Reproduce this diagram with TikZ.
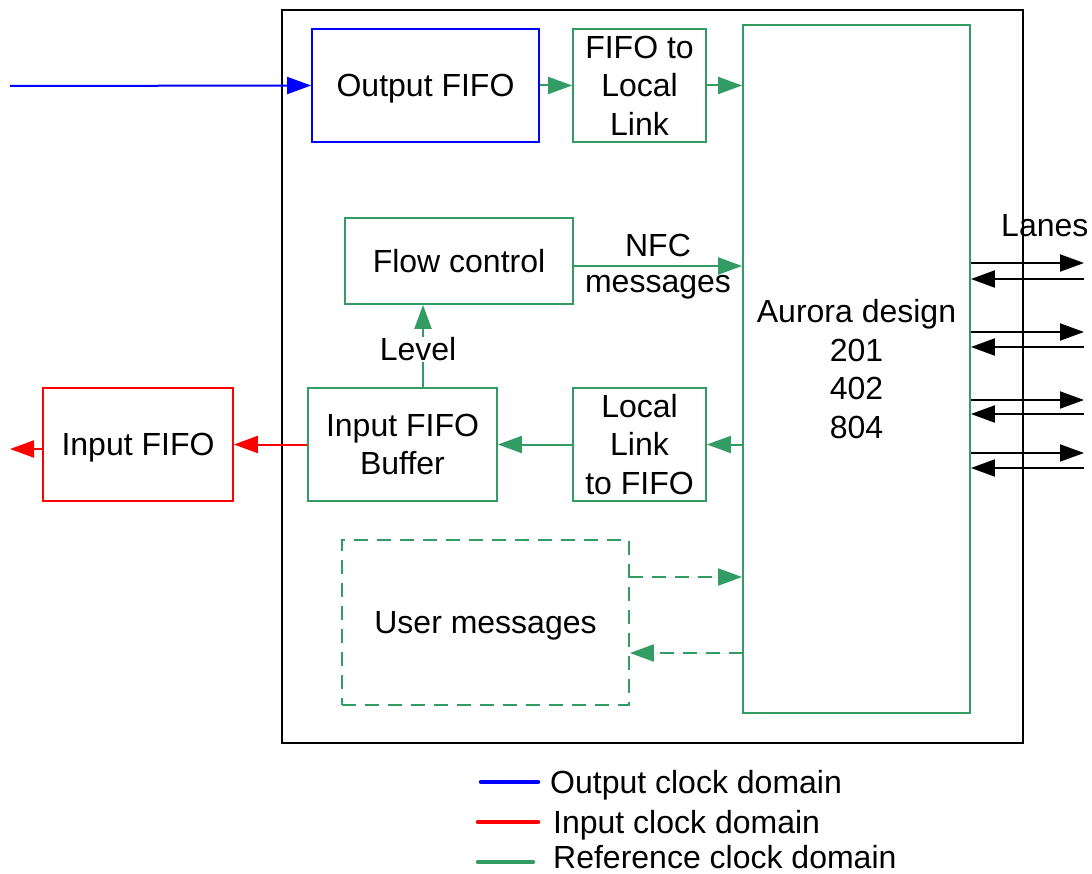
\documentclass[tikz,border=0pt]{standalone}
\usepackage{fontspec}
\setmainfont{Liberation Sans}
\usetikzlibrary{arrows.meta}
\definecolor{refgreen}{RGB}{51,155,100}
\definecolor{outblue}{RGB}{0,0,255}
\definecolor{inred}{RGB}{255,0,0}
\tikzset{
  box/.style={draw, line width=1.8pt, inner sep=0pt, align=center, font=\fontsize{32}{38.5}\selectfont},
  gbox/.style={box, draw=refgreen},
  txt/.style={inner sep=0pt, align=center, font=\fontsize{32}{38.5}\selectfont},
  tip/.style={-{Triangle[length=24pt,width=17pt]}},
  garr/.style={tip, draw=refgreen, fill=refgreen, line width=2pt},
  karr/.style={tip, draw=black, fill=black, line width=2pt},
  legline/.style={line width=4.5pt, line cap=round},
}
\begin{document}
\begin{tikzpicture}[x=1pt,y=-1pt]
\useasboundingbox (0,0) rectangle (1092,874);
% outer box
\node[draw=black, line width=1.8pt, minimum width=741pt, minimum height=733pt, inner sep=0pt] (outer) at (652.5,376.5) {};
% boxes
\node[box, draw=outblue, text depth=0pt, minimum width=227pt, minimum height=113pt] (ofifo) at (425.5,85.5) {Output FIFO};
\node[gbox, minimum width=133pt, minimum height=113pt] (f2l) at (639.5,85.5) {FIFO to\\Local\\Link};
\node[gbox, minimum width=227pt, minimum height=688pt] (aurora) at (856.5,369) {};
\node[txt] (auroratext) at (856.5,369) {Aurora design\\201\\402\\804};
\node[gbox, minimum width=228pt, minimum height=86pt] (flow) at (459,261) {Flow control};
\node[gbox, minimum width=189pt, minimum height=113pt] (ifb) at (402.5,444.5) {Input FIFO\\Buffer};
\node[gbox, minimum width=133pt, minimum height=113pt] (l2f) at (639.5,444.5) {Local\\Link\\to FIFO};
\node[gbox, text depth=0pt, dash pattern=on 14pt off 9pt, minimum width=287pt, minimum height=165pt] (user) at (485.5,622.5) {User messages};
\node[box, draw=inred, text depth=0pt, minimum width=190pt, minimum height=113pt] (ififo) at (138,444.5) {Input FIFO};
% blue input
\coordinate (bin) at (10,86);
\draw[tip, draw=outblue, fill=outblue, line width=2pt] (bin) -- (ofifo.west);
% green arrows
\draw[garr] (ofifo.east) -- (f2l.west);
\draw[garr] (f2l.east) -- (f2l.east -| aurora.west);
\draw[garr] ([yshift=-5pt]flow.east) -- ([yshift=-5pt]flow.east -| aurora.west);
\node[txt, anchor=base] (nfc) at (658,257) {NFC};
\node[txt, anchor=base] (msgs) at (658,293) {messages};
\draw[garr] ([xshift=20.5pt]ifb.north) -- ([xshift=20.5pt]ifb.north |- flow.south);
\node[txt, anchor=base, fill=white, inner sep=1pt] (level) at (418,361) {Level};
\draw[garr] (l2f.east -| aurora.west) -- (l2f.east);
\draw[garr] (l2f.west) -- (ifb.west -| ifb.east);
\draw[garr, dash pattern=on 14pt off 9pt] (629,577) coordinate (u1) -- (u1 -| aurora.west);
\draw[garr, dash pattern=on 14pt off 9pt] (743,653) coordinate (u2) -- (u2 -| user.east);
% red arrows
\draw[tip, draw=inred, fill=inred, line width=2pt] (ifb.west) -- (ififo.east);
\coordinate (rout) at (10,449);
\draw[tip, draw=inred, fill=inred, line width=2pt] (ififo.west |- rout) -- (rout);
% lanes
\node[txt, anchor=base west] (lanes) at (1001,237) {Lanes};
\foreach \a/\b [count=\i] in {263/279, 332/347, 400/414, 453/468}{
  \coordinate (r\i) at (1084,\a);
  \coordinate (l\i) at (1084,\b);
  \draw[karr] (r\i -| aurora.east) -- (r\i);
  \draw[karr] (l\i) -- (l\i -| aurora.east);
}
% legend
\draw[legline, draw=outblue] (481,782) coordinate (lb1) -- (538,782) coordinate (lb2);
\node[txt, anchor=base west] (legb) at (550,793) {Output clock domain};
\draw[legline, draw=inred] (478,822) coordinate (lr1) -- (538,822) coordinate (lr2);
\node[txt, anchor=base west] (legr) at (553,833) {Input clock domain};
\draw[legline, draw=refgreen] (478,862) coordinate (lg1) -- (533,862) coordinate (lg2);
\node[txt, anchor=base west] (legg) at (553,868) {Reference clock domain};
\end{tikzpicture}
\end{document}
